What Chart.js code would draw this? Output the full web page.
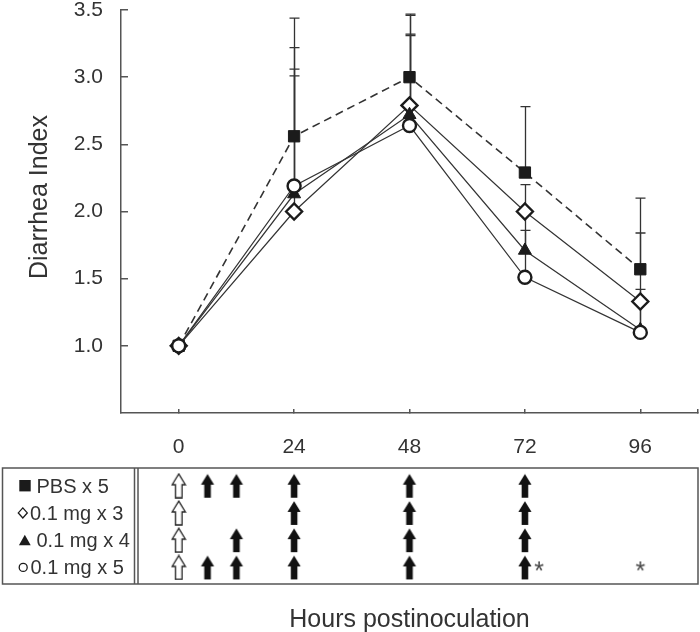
<!DOCTYPE html>
<html>
<head>
<meta charset="utf-8">
<script src="https://cdn.jsdelivr.net/npm/chart.js@4.4.0/dist/chart.umd.min.js"></script>
<style>
html, body { margin: 0; padding: 0; background: #fff; }
canvas { display: block; }
</style>
</head>
<body>
<canvas id="plot" width="700" height="462"></canvas>
<canvas id="table" width="700" height="170"></canvas>
<script>
// ── DATA ──
const hours = [0, 24, 48, 72, 96];
const groups = ['PBS x 5', '0.1 mg x 3', '0.1 mg x 4', '0.1 mg x 5'];

const pbsMean = [1.0, 2.56, 3.0, 2.29, 1.57];
const mg3Mean = [1.0, 2.0, 2.79, 2.0, 1.33];
const mg4Mean = [1.0, 2.13, 2.72, 1.71, 1.12];
const mg5Mean = [1.0, 2.19, 2.64, 1.51, 1.10];

// upper error bars (SD)
const pbsSd = [0, 0.88, 0.47, 0.49, 0.53];
const mg3Sd = [0, 1.01, 0.67, 0.20, 0.51];
const mg4Sd = [0, 0.93, 0.60, 0.30, 0.20];
const mg5Sd = [0, 1.03, 0.67, 0.35, 0.32];

const yTicks = [1.0, 1.5, 2.0, 2.5, 3.0, 3.5];
const xTicks = [0, 24, 48, 72, 96];
const xEnd = 108;
const yTitle = 'Diarrhea Index';
const xTitle = 'Hours postinoculation';

// ── TREATMENT SCHEDULE (table under the plot) ──
const challengeTime = 0;               // open arrow
const doseTimes = [
  [6, 12, 24, 48, 72],
  [24, 48, 72],
  [12, 24, 48, 72],
  [6, 12, 24, 48, 72],
];
const sigTimes = [[], [], [], [72, 96]];  // asterisks

// ── STYLE ──
const FONT = "'Liberation Sans', Arial, sans-serif";
const INK = '#1b1b1b';
const AXIS = '#555';
const TEXT = '#333';

const means = [pbsMean, mg3Mean, mg4Mean, mg5Mean];
const sds = [pbsSd, mg3Sd, mg4Sd, mg5Sd];
const looks = [
  { pointStyle: 'rect',     radius: 8,   fill: INK,    bw: 1,   dash: [8, 5], order: 3 },
  { pointStyle: 'rectRot',  radius: 8,   fill: '#fff', bw: 2.4, dash: [],     order: 2 },
  { pointStyle: 'triangle', radius: 7.5, fill: INK,    bw: 1,   dash: [],     order: 1 },
  { pointStyle: 'circle',   radius: 6.5, fill: '#fff', bw: 2.4, dash: [],     order: 0 },
];

// no automatic padding around the axes: chart area is fixed by afterFit
function noPad(ax) {
  ax.paddingTop = 0; ax.paddingBottom = 0; ax.paddingLeft = 0; ax.paddingRight = 0;
}

// error bars go under the lines and markers, plus the y title
const errorBars = {
  id: 'errorBars',
  beforeDatasetsDraw(chart) {
    const { ctx, scales: { x, y } } = chart;
    ctx.save();
    ctx.strokeStyle = '#333';
    ctx.lineWidth = 1.3;
    sds.forEach((sd, i) => {
      hours.forEach((h, j) => {
        if (!sd[j]) return;
        const px = Math.round(x.getPixelForValue(h)) + 0.5;
        const y0 = y.getPixelForValue(means[i][j]);
        const y1 = y.getPixelForValue(means[i][j] + sd[j]);
        ctx.beginPath();
        ctx.moveTo(px, y0); ctx.lineTo(px, y1);
        ctx.moveTo(px - 5, y1); ctx.lineTo(px + 5, y1);
        ctx.stroke();
      });
    });
    // y axis title
    ctx.translate(40, 197);
    ctx.rotate(-Math.PI / 2);
    ctx.fillStyle = TEXT;
    ctx.font = '25px ' + FONT;
    ctx.textAlign = 'center';
    ctx.textBaseline = 'middle';
    ctx.fillText(yTitle, 0, 0);
    ctx.restore();
  }
};

new Chart(document.getElementById('plot'), {
  type: 'line',
  data: {
    datasets: groups.map((g, i) => ({
      label: g,
      data: hours.map((h, j) => ({ x: h, y: means[i][j] })),
      borderColor: '#333',
      borderWidth: looks[i].dash.length ? 1.6 : 1.2,
      borderDash: looks[i].dash,
      tension: 0,
      pointStyle: looks[i].pointStyle,
      pointRadius: looks[i].radius,
      pointBackgroundColor: looks[i].fill,
      pointBorderColor: INK,
      pointBorderWidth: looks[i].bw,
      order: looks[i].order,
      clip: false,
    }))
  },
  options: {
    responsive: false,
    animation: false,
    layout: { autoPadding: false, padding: { left: 0, right: 2, top: 10, bottom: 0 } },
    scales: {
      x: {
        type: 'linear', min: -12, max: xEnd,
        afterBuildTicks: ax => { ax.ticks = xTicks.concat([xEnd]).map(v => ({ value: v })); },
        afterFit: ax => { ax.height = 49; noPad(ax); },
        ticks: {
          callback: v => (v === xEnd ? '' : String(v)),
          color: TEXT, padding: 26, maxRotation: 0,
          font: { family: FONT, size: 21 },
        },
        grid: { drawOnChartArea: false, drawTicks: true, tickLength: -4, color: AXIS, lineWidth: 1.5 },
        border: { display: true, color: AXIS, width: 1.5 },
      },
      y: {
        min: 0.5, max: 3.5,
        afterBuildTicks: ax => { ax.ticks = yTicks.map(v => ({ value: v })); },
        afterFit: ax => { ax.width = 121; noPad(ax); },
        ticks: {
          callback: v => v.toFixed(1),
          color: TEXT, padding: 25,
          font: { family: FONT, size: 21 },
        },
        grid: { drawOnChartArea: false, drawTicks: true, tickLength: -7, color: AXIS, lineWidth: 1.5 },
        border: { display: true, color: AXIS, width: 1.5 },
      },
    },
    plugins: { legend: { display: false }, tooltip: { enabled: false } },
  },
  plugins: [errorBars],
});

// ── TABLE ──
function arrowImage(open) {
  const c = document.createElement('canvas');
  c.width = 16; c.height = 26;
  const g = c.getContext('2d');
  g.beginPath();
  g.moveTo(8, 1.2);
  g.lineTo(14.6, 12);
  g.lineTo(11.3, 12);
  g.lineTo(11.3, 25);
  g.lineTo(4.7, 25);
  g.lineTo(4.7, 12);
  g.lineTo(1.4, 12);
  g.closePath();
  if (open) {
    g.fillStyle = '#fff'; g.fill();
    g.strokeStyle = '#222'; g.lineWidth = 1.3; g.stroke();
  } else {
    g.fillStyle = '#111'; g.fill();
  }
  return c;
}
function starImage(shift) {
  const c = document.createElement('canvas');
  c.width = 50; c.height = 28;
  const g = c.getContext('2d');
  g.fillStyle = '#444';
  g.font = '25px ' + FONT;
  g.textAlign = 'center';
  g.textBaseline = 'middle';
  g.fillText('*', 25 + shift, 19);
  return c;
}
const openArrow = arrowImage(true);
const doseArrow = arrowImage(false);
const starCentered = starImage(0);
const starBeside = starImage(14);

const tableFrame = {
  id: 'tableFrame',
  beforeDatasetsDraw(chart) {
    const { ctx, chartArea: a, scales: { y } } = chart;
    ctx.save();
    ctx.strokeStyle = AXIS;
    ctx.lineWidth = 1.5;
    ctx.strokeRect(2.5, a.top, a.right - 2.5, a.bottom - a.top);
    ctx.beginPath();
    ctx.moveTo(134.5, a.top); ctx.lineTo(134.5, a.bottom);
    ctx.moveTo(138, a.top); ctx.lineTo(138, a.bottom);
    ctx.stroke();

    // legend markers and labels
    const textX = [36.5, 30, 36.5, 30.5];
    groups.forEach((g, i) => {
      const cy = y.getPixelForValue(i);
      ctx.fillStyle = INK; ctx.strokeStyle = INK; ctx.lineWidth = 1.3;
      ctx.beginPath();
      if (i === 0) {
        ctx.fillRect(19.3, cy - 5.7, 11.4, 11.4);
      } else if (i === 1) {
        ctx.moveTo(22.8, cy - 5); ctx.lineTo(27.3, cy); ctx.lineTo(22.8, cy + 5); ctx.lineTo(18.3, cy);
        ctx.closePath(); ctx.stroke();
      } else if (i === 2) {
        ctx.moveTo(24.8, cy - 5.5); ctx.lineTo(30.7, cy + 5); ctx.lineTo(18.9, cy + 5);
        ctx.closePath(); ctx.fill();
      } else {
        ctx.arc(23.2, cy, 4, 0, Math.PI * 2); ctx.stroke();
      }
      ctx.fillStyle = TEXT;
      ctx.font = '20px ' + FONT;
      ctx.textAlign = 'left';
      ctx.textBaseline = 'alphabetic';
      ctx.fillText(g, textX[i], cy + 7);
    });
    ctx.restore();
  }
};

new Chart(document.getElementById('table'), {
  type: 'scatter',
  data: {
    datasets: [
      {
        data: groups.map((g, i) => ({ x: challengeTime, y: i })),
        pointStyle: openArrow,
      },
      {
        data: doseTimes.flatMap((ts, i) => ts.map(t => ({ x: t, y: i }))),
        pointStyle: doseArrow,
      },
      {
        data: sigTimes.flatMap((ts, i) => ts.map(t => ({ x: t, y: i }))),
        pointStyle: c => (c.raw && doseTimes[c.raw.y].includes(c.raw.x) ? starBeside : starCentered),
      },
    ]
  },
  options: {
    responsive: false,
    animation: false,
    layout: { autoPadding: false, padding: { left: 121, right: 2, top: 6, bottom: 0 } },
    scales: {
      x: {
        type: 'linear', min: -12, max: xEnd,
        afterFit: ax => { ax.height = 48; noPad(ax); },
        ticks: { display: false },
        grid: { display: false },
        border: { display: false },
        title: {
          display: true, text: xTitle, color: TEXT,
          font: { family: FONT, size: 25 }, padding: { top: 0, bottom: -3 },
        },
      },
      y: { display: false, min: -0.65, max: 3.61, reverse: true },
    },
    plugins: { legend: { display: false }, tooltip: { enabled: false } },
  },
  plugins: [tableFrame],
});
</script>
</body>
</html>
